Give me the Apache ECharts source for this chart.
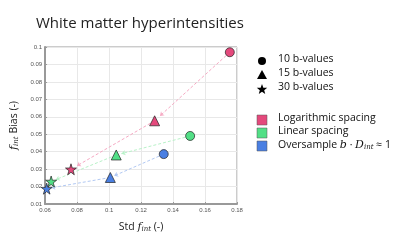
<!DOCTYPE html>
<html>
<head>
<meta charset="utf-8">
<script src="https://cdn.jsdelivr.net/npm/echarts@6/dist/echarts.min.js"></script>
<style>
  html, body { margin: 0; padding: 0; background: #fff; }
  #chart { width: 400px; height: 243px; }
</style>
</head>
<body>
<div id="chart"></div>
<script>
// spacing schemes, each read as [10 b-values, 15 b-values, 30 b-values]
const schemes = ['Logarithmic spacing', 'Linear spacing', 'Oversample'];
const stdValues = [
    [0.1755, 0.1285, 0.0762],
    [0.1507, 0.1045, 0.0638],
    [0.1342, 0.1008, 0.0610]
];
const biasValues = [
    [0.0970, 0.0577, 0.0299],
    [0.0490, 0.0381, 0.0229],
    [0.0386, 0.0252, 0.0188]
];
const bLabels = ['10 b-values', '15 b-values', '30 b-values'];
const xTicks = [0.06, 0.08, 0.1, 0.12, 0.14, 0.16, 0.18];
const yTicks = [0.01, 0.02, 0.03, 0.04, 0.05, 0.06, 0.07, 0.08, 0.09, 0.1];

const markColors = ['#e4497c', '#52df86', '#4a7fe2'];
const lineColors = ['#f6a9c3', '#b8f2c8', '#b2c9f3'];
const starPath = 'path://M50,0 L61,35 L98,35 L68,57 L79,91 L50,70 L21,91 L32,57 L2,35 L39,35 Z';
const shapes = ['circle', 'triangle', starPath];
const shapeSizes = [9, 10, 11];

let chart = echarts.init(document.getElementById('chart'));

let series = [];
schemes.forEach(function (name, s) {
    // dashed arrows: 10 -> 15 -> 30 b-values, stopping just short of the next marker
    let segs = [];
    for (let k = 0; k < 2; k++) {
        let x0 = stdValues[s][k], y0 = biasValues[s][k];
        let x1 = stdValues[s][k + 1], y1 = biasValues[s][k + 1];
        let t = 0.93;
        segs.push({ coords: [[x0, y0], [x0 + (x1 - x0) * t, y0 + (y1 - y0) * t]] });
    }
    series.push({
        type: 'lines',
        coordinateSystem: 'cartesian2d',
        data: segs,
        symbol: ['none', 'arrow'],
        symbolSize: 4,
        silent: true,
        z: 1,
        lineStyle: { color: lineColors[s], width: 1, type: [3, 2], opacity: 1 }
    });
    // markers
    series.push({
        type: 'scatter',
        name: name,
        z: 3,
        data: stdValues[s].map(function (x, k) {
            return {
                value: [x, biasValues[s][k]],
                symbol: shapes[k],
                symbolSize: shapeSizes[k]
            };
        }),
        itemStyle: { color: markColors[s], borderColor: '#222', borderWidth: 0.7, opacity: 1 }
    });
});

const tickFont = { fontSize: 6, color: '#555', fontFamily: 'Liberation Sans' };
const nameRich = {
    n: { fontSize: 10.5, color: '#222', fontFamily: 'Open Sans' },
    i: { fontSize: 11, color: '#222', fontFamily: 'DejaVu Serif', fontStyle: 'italic' },
    s: { fontSize: 7, color: '#222', fontFamily: 'DejaVu Serif', fontStyle: 'italic', padding: [5, 0, 0, 0] }
};

// five-point star outline for the legend glyph
function starPoints(cx, cy, r) {
    let pts = [];
    for (let i = 0; i < 10; i++) {
        let a = -Math.PI / 2 + i * Math.PI / 5;
        let rr = i % 2 ? r * 0.42 : r;
        pts.push([cx + rr * Math.cos(a), cy + rr * Math.sin(a)]);
    }
    return pts;
}

// legend, drawn as plain graphics
let legendEls = [];
const legX = 262, legTextX = 278;
const shapeRows = [61, 75, 89];
legendEls.push({ type: 'circle', shape: { cx: legX, cy: shapeRows[0], r: 4 }, style: { fill: '#000' } });
legendEls.push({ type: 'polygon', shape: { points: [[legX, shapeRows[1] - 5], [legX + 5, shapeRows[1] + 4], [legX - 5, shapeRows[1] + 4]] }, style: { fill: '#000' } });
legendEls.push({ type: 'polygon', shape: { points: starPoints(legX, shapeRows[2] + 0.5, 5.5) }, style: { fill: '#000' } });
bLabels.forEach(function (lab, k) {
    legendEls.push({
        type: 'text', x: legTextX, y: shapeRows[k] - 7,
        style: { text: lab, fontSize: 10.5, fill: '#111', fontFamily: 'Open Sans' }
    });
});
const colorRows = [120, 133, 146];
schemes.forEach(function (name, s) {
    legendEls.push({
        type: 'rect', shape: { x: legX - 5, y: colorRows[s] - 5, width: 10, height: 10 },
        style: { fill: markColors[s], stroke: '#555', lineWidth: 0.5 }
    });
    legendEls.push({
        type: 'text', x: legTextX, y: colorRows[s] - 7,
        style: s < 2 ? { text: name, fontSize: 10.5, fill: '#111', fontFamily: 'Open Sans' } : {
            text: '{n|Oversample }{i|b}{n| · }{i|D}{s|int}{n| ≈ 1}',
            rich: {
                n: { fontSize: 10.5, fill: '#111', fontFamily: 'Open Sans' },
                i: { fontSize: 11, fill: '#111', fontFamily: 'DejaVu Serif', fontStyle: 'italic' },
                s: { fontSize: 7, fill: '#111', fontFamily: 'DejaVu Serif', fontStyle: 'italic', padding: [5, 0, 0, 0] }
            }
        }
    });
});

let option = {
    backgroundColor: '#fff',
    animation: false,
    title: {
        text: 'White matter hyperintensities',
        left: 31,
        top: 11,
        textStyle: { fontSize: 15, fontWeight: 'normal', color: '#222', fontFamily: 'Open Sans' }
    },
    grid: {
        left: 36, right: 163, top: 47, bottom: 39,
        show: true, borderColor: '#999', borderWidth: 1
    },
    xAxis: {
        type: 'value',
        min: 0.06, max: 0.18, interval: 0.02,
        name: '{n|Std }{i|f}{s|int}{n| (-)}',
        nameLocation: 'middle',
        nameGap: 17,
        nameTextStyle: { rich: nameRich },
        axisLine: { show: true, onZero: false, lineStyle: { color: '#999', width: 2 } },
        axisTick: { show: true, inside: true, length: 2, lineStyle: { color: '#999' } },
        axisLabel: Object.assign({ margin: 3, formatter: function (v) { return String(+v.toFixed(2)); } }, tickFont),
        splitLine: { show: true, lineStyle: { color: '#e8e8e8', width: 1 } }
    },
    yAxis: {
        type: 'value',
        min: 0.01, max: 0.1, interval: 0.01,
        name: '{i|f}{s|int}{n| Bias (-)}',
        nameLocation: 'middle',
        nameGap: 25,
        nameTextStyle: { rich: nameRich },
        axisLine: { show: true, onZero: false, lineStyle: { color: '#999', width: 2 } },
        axisTick: { show: true, inside: true, length: 2, lineStyle: { color: '#999' } },
        axisLabel: Object.assign({ margin: 3, formatter: function (v) { return String(+v.toFixed(2)); } }, tickFont),
        splitLine: { show: true, lineStyle: { color: '#e8e8e8', width: 1 } }
    },
    graphic: legendEls,
    series: series
};

chart.setOption(option);
</script>
</body>
</html>
